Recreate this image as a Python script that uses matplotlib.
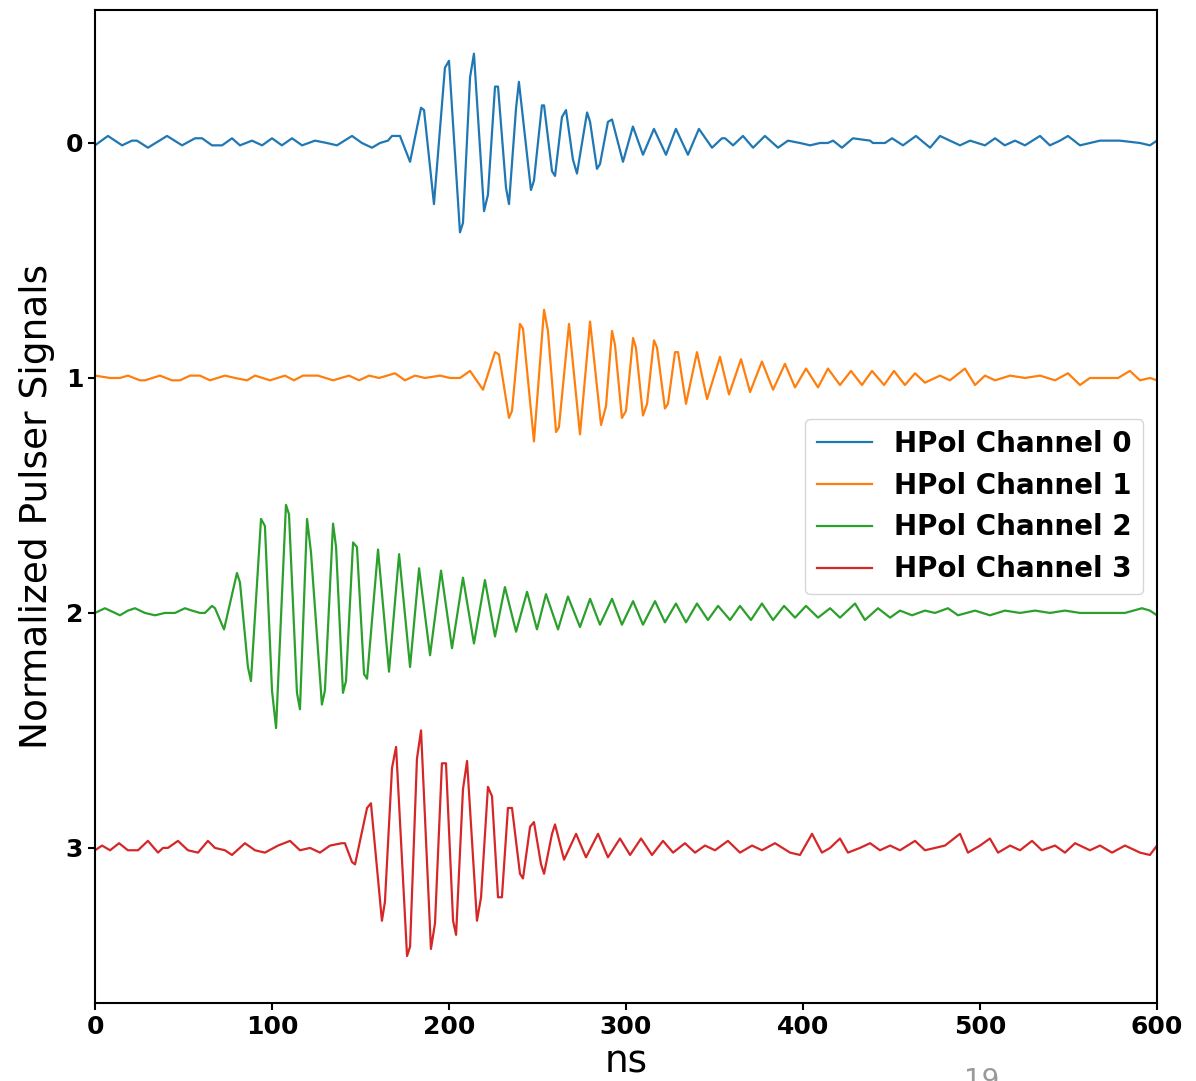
import matplotlib
matplotlib.use("Agg")
import matplotlib.pyplot as plt
import numpy as np

# ---- data: times (ns) of read extrema and normalized signal values ----
ch0_t = [0, 7.3, 15.3, 20.9, 23.7, 29.9, 40.7, 49.2, 56.5, 60.5, 66.1, 71.8, 77.4, 81.9, 88.7, 94.4,
         100, 105.6, 111.3, 117, 124.3, 131, 136.7, 145.2, 150.8, 156.5, 161, 165.5, 167.8, 172.3,
         178, 184.2, 185.9, 191.5, 197.7, 200, 206.2, 207.9, 211.9, 214.1, 219.8, 222, 226, 227.7,
         232.2, 233.9, 237.9, 239.5, 246.3, 248, 252.5, 253.7, 258.2, 259.9, 263.8, 266.1, 270,
         272.3, 278, 279.7, 283.6, 285.3, 289.8, 292.1, 298.3, 303.9, 309.6, 315.8, 322.6, 328.2,
         335, 341.2, 348.6, 354.2, 356, 360.5, 366.1, 371.8, 378.5, 385.9, 391.5, 398.3, 404,
         409.6, 414, 417, 422, 428.2, 437.9, 439.5, 446.3, 450.3, 456.5, 463.8, 471.8, 477.4,
         483, 488.7, 494.4, 502.8, 508.5, 514, 519.8, 525.4, 533.9, 539.5, 545.2, 549.7, 556.5,
         562.1, 567.8, 579, 590.4, 596, 600]
ch0_v = [0.01, -0.03, 0.01, -0.01, -0.01, 0.02, -0.03, 0.01, -0.02, -0.02, 0.01, 0.01, -0.02, 0.01, -0.01, 0.01,
         -0.02, 0.01, -0.02, 0.01, -0.01, 0.0, 0.01, -0.03, 0.0, 0.02, 0.0, -0.01, -0.03, -0.03,
         0.08, -0.15, -0.14, 0.26, -0.32, -0.35, 0.38, 0.34, -0.28, -0.38, 0.29, 0.22, -0.24, -0.24,
         0.19, 0.26, -0.15, -0.26, 0.20, 0.16, -0.16, -0.16, 0.12, 0.14, -0.11, -0.14, 0.07,
         0.13, -0.13, -0.09, 0.11, 0.09, -0.09, -0.10, 0.08, -0.07, 0.05, -0.06, 0.05, -0.06,
         0.05, -0.06, 0.02, -0.02, -0.02, 0.01, -0.03, 0.02, -0.03, 0.02, -0.01, 0.0, 0.01,
         0.0, 0.0, -0.01, 0.02, -0.02, -0.01, 0.0, 0.0, -0.02, 0.01, -0.03, 0.02, -0.03,
         -0.01, 0.01, -0.01, 0.01, -0.02, 0.01, -0.01, 0.01, -0.03, 0.01, -0.01, -0.03, 0.01,
         0.0, -0.01, -0.01, 0.0, 0.01, -0.01]

ch1_t = [0, 8.5, 14.1, 18.6, 25.4, 28.2, 36.7, 43.5, 48, 53.7, 59.3, 65, 73.4, 79.1, 85.9, 90.4,
         98.9, 107.3, 112.4, 117.5, 126, 134.5, 143.5, 149.2, 154.8, 160.5, 169.5, 175.1, 180.8,
         186.4, 194.9, 200.6, 206.2, 211.9, 219.2, 226, 228.2, 233.9, 235.6, 240.1, 241.8, 248,
         253.7, 255.9, 260.5, 262.1, 267.8, 274, 279.7, 285.9, 288.7, 292.1, 293.8, 297.7, 300,
         304, 305.6, 309.6, 311.9, 315.8, 317.5, 322, 323.7, 327.7, 329.4, 333.9, 340.1, 345.8,
         353.1, 358.2, 365, 370.1, 376.8, 383.1, 389.8, 395.5, 401.7, 408.5, 414.1, 420.9, 427.1,
         433.3, 439, 445.8, 451.4, 457.6, 463.3, 468.9, 477.4, 483, 491.5, 497.2, 502.8, 508.5,
         517, 525.4, 533.9, 542.4, 549.7, 556.5, 562.1, 570.6, 578, 584.7, 590.4, 596, 600]
ch1_v = [-0.01, 0.0, 0.0, -0.01, 0.01, 0.01, -0.01, 0.01, 0.01, -0.01, -0.01, 0.01, -0.01, 0.0, 0.01, -0.01,
         0.01, -0.01, 0.01, -0.01, -0.01, 0.01, -0.01, 0.01, -0.01, 0.0, -0.02, 0.01, -0.01,
         0.0, -0.01, 0.0, 0.0, -0.03, 0.05, -0.11, -0.10, 0.17, 0.14, -0.23, -0.21, 0.27,
         -0.29, -0.20, 0.23, 0.21, -0.23, 0.24, -0.24, 0.20, 0.12, -0.20, -0.14, 0.17, 0.14,
         -0.17, -0.13, 0.16, 0.11, -0.16, -0.13, 0.13, 0.11, -0.11, -0.11, 0.11, -0.11, 0.09,
         -0.09, 0.07, -0.08, 0.06, -0.07, 0.05, -0.06, 0.04, -0.04, 0.04, -0.04, 0.03, -0.03,
         0.03, -0.03, 0.03, -0.03, 0.03, -0.02, 0.02, -0.01, 0.01, -0.04, 0.03, -0.01, 0.01,
         -0.01, 0.0, -0.01, 0.01, -0.02, 0.03, 0.0, 0.0, 0.0, -0.03, 0.01, 0.0, 0.01]

ch2_t = [0, 5.6, 11.3, 14.1, 18.6, 22.6, 28.2, 33.9, 39.5, 45.2, 50.8, 54.8, 59.3, 62.1, 66.1, 67.8,
         72.9, 80.2, 81.9, 86.4, 88.1, 93.8, 96, 100, 102.3, 107.9, 109.6, 114.1, 115.8, 119.8,
         122, 128.2, 129.9, 134.5, 136.2, 140.1, 141.8, 145.8, 148, 152, 153.7, 159.9, 166.1,
         171.8, 178, 183.1, 189.3, 195.5, 201.7, 207.9, 214.1, 220.3, 226, 231.6, 237.9, 244.1,
         249.7, 254.8, 261.6, 267.2, 274, 279.7, 285.3, 292.1, 297.7, 304, 309.6, 316.4, 322,
         328.2, 333.9, 340.1, 346.3, 352, 358.8, 364.4, 370.6, 376.8, 383.1, 389.3, 395.5, 401.7,
         408.5, 415.3, 420.9, 429.4, 435, 442.4, 449.2, 454.8, 461.6, 468.9, 474.6, 481.9, 487.6,
         497.2, 505.6, 514.1, 522.6, 531.1, 539.5, 548, 556.5, 565, 573.4, 581.9, 591.5, 596, 600]
ch2_v = [0.0, -0.02, 0.0, 0.01, -0.01, -0.02, 0.0, 0.01, 0.0, 0.0, -0.02, -0.01, 0.0, 0.0, -0.03, -0.02,
         0.07, -0.17, -0.13, 0.23, 0.29, -0.40, -0.37, 0.33, 0.49, -0.46, -0.42, 0.34, 0.41, -0.40,
         -0.26, 0.39, 0.33, -0.38, -0.28, 0.34, 0.29, -0.30, -0.28, 0.26, 0.28, -0.27, 0.25,
         -0.25, 0.23, -0.19, 0.18, -0.18, 0.15, -0.15, 0.13, -0.14, 0.10, -0.11, 0.08, -0.09,
         0.07, -0.08, 0.07, -0.07, 0.06, -0.06, 0.05, -0.06, 0.05, -0.05, 0.05, -0.05, 0.04,
         -0.04, 0.04, -0.04, 0.03, -0.03, 0.03, -0.03, 0.03, -0.04, 0.03, -0.03, 0.02, -0.03,
         0.02, -0.02, 0.02, -0.04, 0.03, -0.02, 0.02, -0.01, 0.01, -0.01, 0.0, -0.02, 0.01,
         -0.01, 0.01, -0.01, 0.0, -0.01, 0.0, -0.01, 0.0, 0.0, 0.0, 0.0, -0.02, -0.01, 0.01]

ch3_t = [0, 4, 8.5, 13.6, 18.6, 24.3, 29.9, 35.6, 38.4, 41.2, 46.9, 52.5, 58.2, 63.8, 67.8, 73.4,
         77.4, 84.7, 90.4, 96, 103.4, 110.2, 115.8, 121.5, 127.1, 132.8, 139.5, 141.2, 145.2,
         146.9, 153.7, 155.9, 162.1, 163.8, 167.8, 170.1, 176.3, 178, 181.9, 184.2, 189.8, 192.1,
         196, 198.3, 202.3, 204, 207.9, 210.2, 215.8, 218.1, 222, 224.3, 227.7, 229.9, 233.3,
         235.6, 240.1, 241.8, 245.8, 248, 252, 253.7, 258.2, 259.9, 265, 271.8, 277.4, 284.2,
         289.8, 296.6, 302.3, 308.5, 314.7, 320.9, 326.6, 333.3, 339, 344.6, 350.3, 357.6, 364.4,
         371.2, 376.8, 384.2, 392.7, 398.3, 405.1, 410.7, 415.3, 420.9, 425.4, 432.2, 437.9,
         443.5, 449.2, 454.8, 463.3, 468.9, 474.6, 480.2, 488.7, 493.2, 500, 505.6, 510.2, 517,
         522.6, 529.4, 535, 542.4, 548, 553.7, 562.1, 567.8, 574.6, 581.9, 590.4, 596, 600]
ch3_v = [0.01, -0.01, 0.01, -0.02, 0.01, 0.01, -0.03, 0.02, 0.0, 0.0, -0.03, 0.01, 0.02, -0.03, 0.0, 0.01,
         0.03, -0.02, 0.01, 0.02, -0.01, -0.03, 0.01, 0.0, 0.02, -0.01, -0.02, -0.02, 0.06,
         0.07, -0.17, -0.19, 0.31, 0.23, -0.34, -0.43, 0.46, 0.42, -0.38, -0.50, 0.43, 0.32,
         -0.36, -0.36, 0.31, 0.37, -0.25, -0.37, 0.31, 0.21, -0.26, -0.22, 0.21, 0.21, -0.17,
         -0.17, 0.11, 0.13, -0.09, -0.11, 0.07, 0.11, -0.06, -0.10, 0.05, -0.06, 0.04, -0.06,
         0.04, -0.04, 0.03, -0.04, 0.03, -0.03, 0.02, -0.02, 0.02, -0.01, 0.01, -0.03, 0.02,
         -0.01, 0.01, -0.02, 0.02, 0.03, -0.06, 0.02, 0.0, -0.04, 0.02, 0.0, -0.02,
         0.01, -0.01, 0.01, -0.03, 0.01, 0.0, -0.01, -0.06, 0.02, -0.01, -0.04, 0.02, -0.01,
         0.01, -0.03, 0.01, -0.01, 0.02, -0.02, 0.01, -0.01, 0.02, -0.01, 0.02, 0.03, -0.01]

labels = ["HPol Channel 0", "HPol Channel 1", "HPol Channel 2", "HPol Channel 3"]
x_ticks = [0, 100, 200, 300, 400, 500, 600]
y_ticks = [0, 1, 2, 3]

series = [(ch0_t, ch0_v), (ch1_t, ch1_v), (ch2_t, ch2_v), (ch3_t, ch3_v)]
colors = ["#1f77b4", "#ff7f0e", "#2ca02c", "#d62728"]

fig = plt.figure(figsize=(11.96, 10.81), dpi=100)
ax = fig.add_axes([95 / 1196, 1 - 1003 / 1081, 1062 / 1196, 993 / 1081])

for i, ((t, v), c, lab) in enumerate(zip(series, colors, labels)):
    ax.plot(t, np.array(v) + i, color=c, lw=1.6, label=lab)

ax.set_xlim(0, 600)
ax.set_ylim(3.66, -0.566)
ax.set_xticks(x_ticks)
ax.set_yticks(y_ticks)
ax.set_xticklabels([str(x) for x in x_ticks], fontsize=18, fontweight="bold")
ax.set_yticklabels([str(y) for y in y_ticks], fontsize=18, fontweight="bold")
ax.tick_params(axis="both", length=5, width=1.5)
for s in ax.spines.values():
    s.set_linewidth(1.5)

ax.set_xlabel("ns", fontsize=27, labelpad=4)
ax.set_ylabel("Normalized Pulser Signals", fontsize=27, labelpad=8)

leg = ax.legend(loc="center right", prop={"size": 20, "weight": "bold"},
                handlelength=2.0, borderaxespad=0.5)

fig.text(982 / 1196, 1 - 1067 / 1081, "19", fontsize=20, color="#999999",
         ha="center", va="top")

fig.savefig("out.png", dpi=100)
